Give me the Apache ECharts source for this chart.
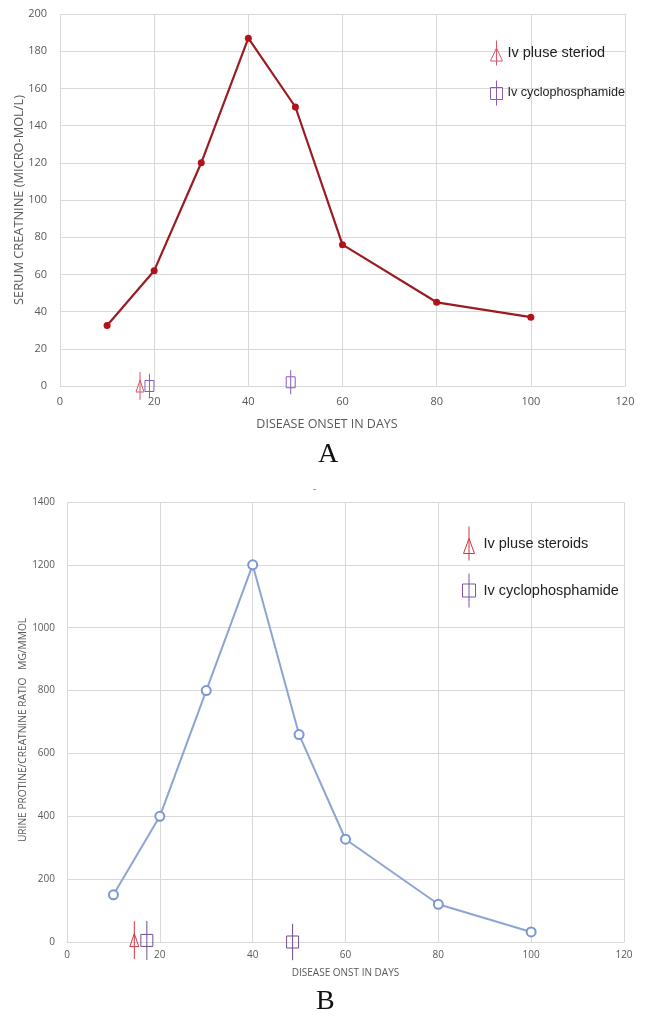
<!DOCTYPE html>
<html>
<head>
<meta charset="utf-8">
<script src="https://cdn.jsdelivr.net/npm/echarts@6/dist/echarts.min.js"></script>
<style>
  html, body { margin: 0; padding: 0; background: #fff; }
  #chart { width: 646px; height: 1017px; }
</style>
</head>
<body>
<div id="chart"></div>
<script>
// days after disease onset
var days = [10, 20, 30, 40, 50, 60, 80, 100]
// panel A: serum creatinine (micro-mol/L)
var creatinine = [32.5, 62, 120, 187, 150, 76, 45, 37]
// panel B: urine protein/creatinine ratio (mg/mmol)
var upcr = [150, 400, 800, 1200, 660, 327, 120, 32]

// treatment markers: day, level, error bar half length
var steroidDaysA = [17]
var steroidLevelA = [0]
var steroidErrA = [7.5]
var cycloDaysA = [19, 49]
var cycloLevelA = [0, 2]
var cycloErrA = [6.5, 6.5]

var steroidDaysB = [14.5]
var steroidLevelB = [6]
var steroidErrB = [60]
var cycloDaysB = [17.2, 48.6]
var cycloLevelB = [5, 0]
var cycloErrB = [62, 58]

function pairs(xs, ys) {
  return xs.map(function (x, i) { return [x, ys[i]] })
}
function triples(xs, ys, es) {
  return xs.map(function (x, i) { return [x, ys[i], es[i]] })
}

// marker with a vertical error bar drawn through it
function markerSeries(name, data, idx, shape, color, w, h) {
  return {
    type: 'custom',
    name: name,
    xAxisIndex: idx,
    yAxisIndex: idx,
    clip: false,
    data: data,
    itemStyle: { color: color },
    renderItem: function (params, api) {
      var x = api.value(0)
      var y = api.value(1)
      var e = api.value(2)
      var c = api.coord([x, y])
      var top = api.coord([x, y + e])
      var bot = api.coord([x, y - e])
      var mark
      if (shape === 'triangle') {
        mark = {
          type: 'polygon',
          shape: { points: [[c[0] - w / 2, c[1] + h / 2], [c[0], c[1] - h / 2], [c[0] + w / 2, c[1] + h / 2]] }
        }
      } else {
        mark = {
          type: 'rect',
          shape: { x: c[0] - w / 2, y: c[1] - h / 2, width: w, height: h }
        }
      }
      mark.style = { fill: 'none', stroke: color, lineWidth: 1 }
      return {
        type: 'group',
        children: [
          mark,
          { type: 'line', shape: { x1: c[0], y1: top[1], x2: c[0], y2: bot[1] }, style: { stroke: color, lineWidth: 1 } }
        ]
      }
    }
  }
}

var gridColor = '#d9d9d9'
var labelColor = '#595959'
var axisFont = 'Open Sans'

function xAxisOf(idx, name, fontSize, nameSize, margin, gap, pad) {
  return {
    type: 'value', gridIndex: idx, min: 0, max: 120, interval: 20,
    name: name, nameLocation: 'middle', nameGap: gap, nameMoveOverlap: false,
    nameTextStyle: { color: labelColor, fontSize: nameSize, fontFamily: axisFont, padding: pad },
    axisLine: { show: true, lineStyle: { color: gridColor } },
    axisTick: { show: false },
    axisLabel: { color: labelColor, fontSize: fontSize, fontFamily: axisFont, margin: margin },
    splitLine: { show: true, lineStyle: { color: gridColor } }
  }
}
function yAxisOf(idx, max, interval, name, fontSize, nameSize, gap, margin, pad) {
  return {
    type: 'value', gridIndex: idx, min: 0, max: max, interval: interval,
    name: name, nameLocation: 'middle', nameGap: gap, nameMoveOverlap: false,
    nameTextStyle: { color: labelColor, fontSize: nameSize, fontFamily: axisFont, padding: pad },
    axisLine: { show: false },
    axisTick: { show: false },
    axisLabel: {
      color: labelColor, fontSize: fontSize, fontFamily: axisFont, margin: margin,
      formatter: function (v) { return String(v) }
    },
    splitLine: { show: true, lineStyle: { color: gridColor } }
  }
}

var triRed = 'path://M6,0 L6,25 M0,20.5 L6,7.5 L12,20.5 Z'
var sqPurple = 'path://M6,0 L6,25 M0,7 L12,7 L12,19 L0,19 Z'
var triRedB = 'path://M6.5,0 L6.5,34 M1,27 L6.5,12 L12,27 Z'
var sqPurpleB = 'path://M6.5,0 L6.5,34 M0,10.5 L13,10.5 L13,23.5 L0,23.5 Z'

var chart = echarts.init(document.getElementById('chart'))
chart.setOption({
  animation: false,
  backgroundColor: '#fff',
  grid: [
    { left: 60, top: 14, right: 21, height: 372, outerBoundsMode: 'none' },
    { left: 67, top: 502, right: 22, height: 440, outerBoundsMode: 'none' }
  ],
  xAxis: [
    xAxisOf(0, 'DISEASE ONSET IN DAYS', 11, 12.5, 10, 32, [0, 31, 0, 0]),
    xAxisOf(1, 'DISEASE ONST IN DAYS', 10, 10, 8, 26, [0, 0, 0, 0])
  ],
  yAxis: [
    yAxisOf(0, 200, 20, 'SERUM CREATNINE (MICRO-MOL/L)', 11, 12.8, 34, 13, [0, 0, 0, 0]),
    yAxisOf(1, 1400, 200, 'URINE PROTINE/CREATNINE RATIO   MG/MMOL', 10, 10.2, 39, 12, [0, 16, 0, 0])
  ],
  legend: [
    {
      orient: 'vertical', left: 483, top: 33, itemWidth: 12, itemHeight: 25, itemGap: 10,
      selectedMode: false,
      textStyle: {
        color: '#222', fontFamily: 'Liberation Sans', fontSize: 13,
        rich: {
          big: { color: '#222', fontFamily: 'Liberation Sans', fontSize: 14.5 },
          small: { color: '#222', fontFamily: 'Liberation Sans', fontSize: 12.6 }
        }
      },
      formatter: function (name) {
        return name === 'Iv pluse steriod' ? '{big|' + name + '}' : '{small|' + name + '}'
      },
      data: [
        { name: 'Iv pluse steriod', icon: triRed, itemStyle: { color: 'none', borderColor: '#dd5566', borderWidth: 1 } },
        { name: 'Iv cyclophosphamide', icon: sqPurple, itemStyle: { color: 'none', borderColor: '#8a5cb8', borderWidth: 1 } }
      ]
    },
    {
      orient: 'vertical', left: 455, top: 519, itemWidth: 19, itemHeight: 34, itemGap: 8,
      selectedMode: false,
      textStyle: { color: '#222', fontFamily: 'Liberation Sans', fontSize: 14.5 },
      data: [
        { name: 'Iv pluse steroids', icon: triRedB, itemStyle: { color: 'none', borderColor: '#d2353f', borderWidth: 1 } },
        { name: 'Iv cyclophosphamide ', icon: sqPurpleB, itemStyle: { color: 'none', borderColor: '#7a55a8', borderWidth: 1 } }
      ]
    }
  ],
  graphic: [
    { type: 'text', left: 318, top: 441, style: { text: 'A', font: '28px "Liberation Serif"', fill: '#111' } },
    { type: 'text', left: 316, top: 988, style: { text: 'B', font: '28px "Liberation Serif"', fill: '#111' } },
    { type: 'text', left: 313, top: 484, style: { text: '-', font: '10px "Open Sans"', fill: '#777' } }
  ],
  series: [
    {
      type: 'line', name: 'creatinine', xAxisIndex: 0, yAxisIndex: 0,
      data: pairs(days, creatinine),
      symbol: 'circle', symbolSize: 7,
      lineStyle: { color: '#9b1c20', width: 2.2 },
      itemStyle: { color: '#b3121a' }
    },
    markerSeries('Iv pluse steriod', triples(steroidDaysA, steroidLevelA, steroidErrA), 0, 'triangle', '#dd5566', 8, 12),
    markerSeries('Iv cyclophosphamide', triples(cycloDaysA, cycloLevelA, cycloErrA), 0, 'square', '#8a5cb8', 9, 11),
    {
      type: 'line', name: 'upcr', xAxisIndex: 1, yAxisIndex: 1,
      data: pairs(days, upcr),
      symbol: 'emptyCircle', symbolSize: 9,
      lineStyle: { color: '#8ea4d2', width: 2 },
      itemStyle: { color: '#7b97d3', borderWidth: 3 }
    },
    markerSeries('Iv pluse steroids', triples(steroidDaysB, steroidLevelB, steroidErrB), 1, 'triangle', '#d2353f', 9, 13),
    markerSeries('Iv cyclophosphamide ', triples(cycloDaysB, cycloLevelB, cycloErrB), 1, 'square', '#6e4f8c', 12, 12)
  ]
})
</script>
</body>
</html>
